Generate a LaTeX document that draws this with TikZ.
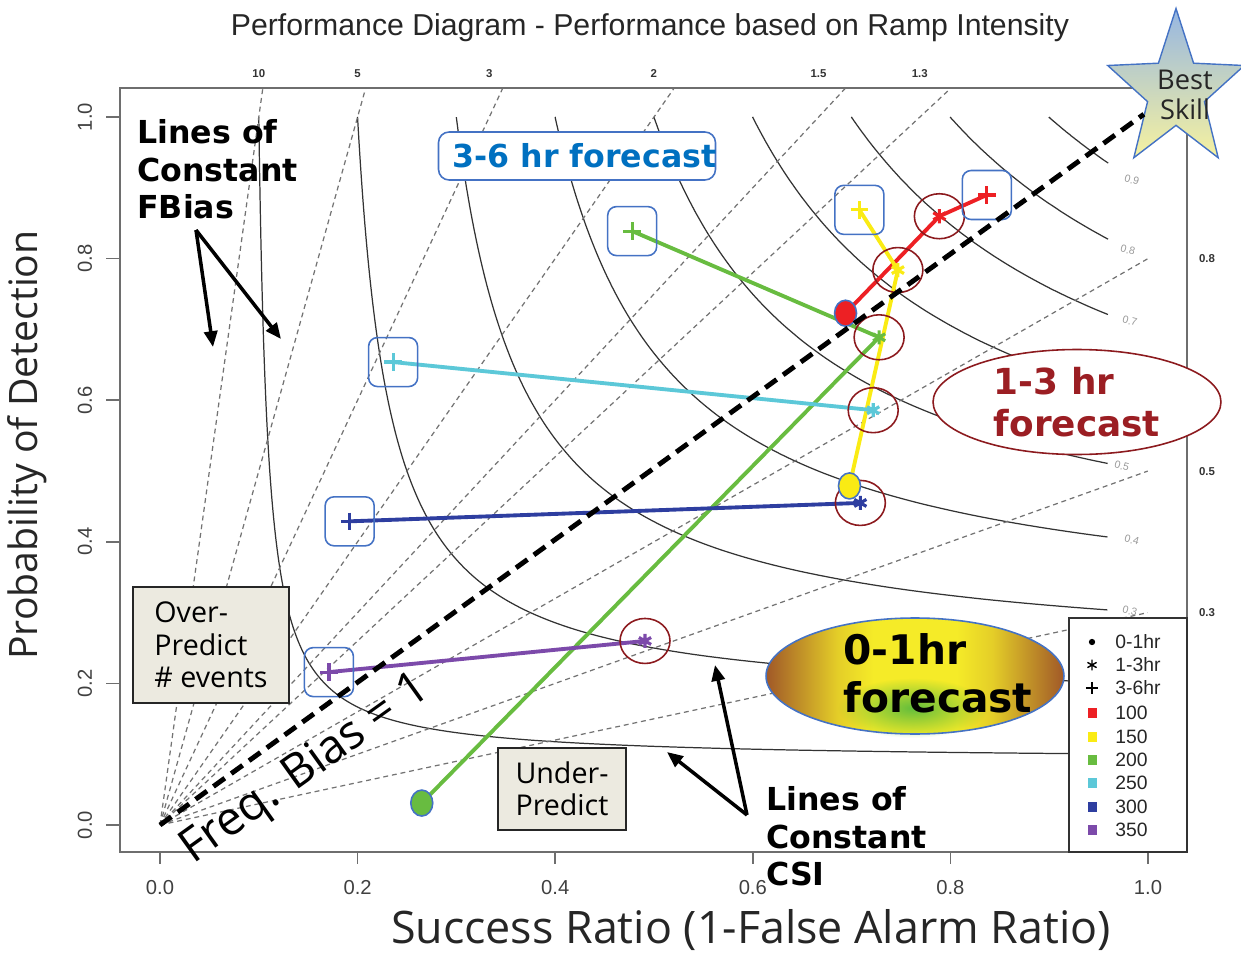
\documentclass[tikz,border=0pt]{standalone}
\usepackage{fontspec}
\setmainfont{Liberation Sans}
\newfontfamily\annfont{DejaVu Sans}
\newfontfamily\labfont{Open Sans}
\usepackage{xcolor}
\usepackage{tikz}
\usetikzlibrary{shapes.geometric,arrows.meta,positioning,calc,plotmarks,fadings}
\definecolor{serred}{RGB}{237,32,36}
\definecolor{seryellow}{RGB}{250,235,20}
\definecolor{sergreen}{RGB}{104,188,64}
\definecolor{sercyan}{RGB}{92,200,216}
\definecolor{serblue}{RGB}{46,62,160}
\definecolor{serpurple}{RGB}{124,74,170}
\definecolor{boxblue}{RGB}{68,114,196}
\definecolor{ringred}{RGB}{140,26,30}
\definecolor{fcblue}{RGB}{0,112,192}
\definecolor{fcred}{RGB}{155,30,35}
\definecolor{beige}{RGB}{236,234,224}
\definecolor{framegray}{RGB}{110,110,110}
\definecolor{sunyellow}{RGB}{245,235,40}
\definecolor{sunbrown}{RGB}{160,88,40}
\definecolor{sungreen}{RGB}{100,190,60}
\definecolor{skyblue}{RGB}{150,182,226}
\definecolor{paleyellow}{RGB}{246,242,160}
\pgfdeclarehorizontalshading{sunband}{100bp}{color(0bp)=(sunbrown); color(25bp)=(sunbrown); color(37bp)=(sunyellow!80!sunbrown); color(43bp)=(sunyellow); color(57bp)=(sunyellow); color(63bp)=(sunyellow!80!sunbrown); color(75bp)=(sunbrown); color(100bp)=(sunbrown)}
\tikzfading[name=greenspot, inner color=transparent!0, outer color=transparent!100]

\begin{document}
\begin{tikzpicture}[x=0.02cm, y=-0.02cm, inner sep=0pt,
  axislab/.style={font=\fontsize{11.5}{13}\selectfont, text=black!75},
  biaslab/.style={font=\bfseries\fontsize{6.5}{8}\selectfont, text=black!80},
  csilab/.style={font=\fontsize{6}{7}\selectfont, text=black!40},
  csiline/.style={black!80, line width=0.7pt},
  biasline/.style={black!55, line width=0.7pt, dash pattern=on 2.8pt off 2.2pt},
  serline/.style={line width=2.2pt},
  ring/.style={ellipse, draw=ringred, line width=0.9pt, minimum width=1cm, minimum height=0.9cm},
  plusbox/.style={draw=boxblue, line width=0.9pt, rounded corners=5pt, minimum size=0.98cm},
  dotmark/.style={ellipse, draw=boxblue, line width=0.9pt, minimum width=0.44cm, minimum height=0.52cm},
  bigarrow/.style={-{Triangle[length=9pt, width=7.5pt]}, line width=2pt},
  boldnote/.style={font=\annfont\bfseries\fontsize{18}{21.5}\selectfont, align=left},
  boxnote/.style={draw=black!85, fill=beige, line width=0.9pt, font=\labfont\fontsize{16.3}{18.4}\selectfont, align=left}]
\useasboundingbox (0,0) rectangle (1241,956);

\draw[framegray, line width=1.1pt] (120,88) rectangle (1187,852);
\foreach \v [count=\k from 0] in {0.0,0.2,0.4,0.6,0.8,1.0} {
  \draw[framegray, line width=0.9pt] (106,{825-141.6*\k}) -- (120,{825-141.6*\k});
  \draw[framegray, line width=0.9pt] ({160+197.6*\k},852) -- ({160+197.6*\k},864);
  \node[axislab, rotate=90] (yt\k) at (85,{825-141.6*\k}) {\v};
  \node[axislab] (xt\k) at ({160+197.6*\k},888) {\v};
}
\node[font=\fontsize{17.2}{20}\selectfont, text=black!85] (title) at (650,28) {Performance Diagram - Performance based on Ramp Intensity};
\node[font=\labfont\fontsize{22.3}{26}\selectfont, text=black!85, rotate=90] (ytitle) at (27,445) {Probability of Detection};
\node[font=\labfont\fontsize{25.5}{30}\selectfont, text=black!85] (xtitle) at (751,930) {Success Ratio (1-False Alarm Ratio)};

\begin{scope}[shift={(160,825)}, x=19.76cm, y=14.16cm]
  \foreach \c in {0.1,0.2,0.3,0.4,0.5,0.6,0.7,0.8,0.9}
    \draw[csiline] plot[domain=0:1, samples=90, smooth, variable=\t] ({\c+(0.96-\c)*\t^3}, {1/(1/\c-1/(\c+(0.96-\c)*\t^3)+1)});
  \foreach \B [count=\i] in {1.3,1.5,2,3,5,10} {
    \draw[biasline] (0,0) -- ({1.04/\B},1.04);
    \node[biaslab] (bt\i) at ({1/\B},1.062) {\B};
  }
  \foreach \B [count=\i] in {0.3,0.5,0.8} {
    \draw[biasline] (0,0) -- (1,\B);
    \node[biaslab] (br\i) at (1.06,\B) {\B};
  }
  \coordinate (orig) at (0,0);
  \coordinate (r1) at (0.694,0.723);
  \coordinate (r2) at (0.789,0.860);
  \coordinate (r3) at (0.837,0.890);
  \coordinate (y1) at (0.698,0.479);
  \coordinate (y2) at (0.747,0.784);
  \coordinate (y3) at (0.708,0.869);
  \coordinate (g1) at (0.265,0.031);
  \coordinate (g2) at (0.728,0.689);
  \coordinate (g3) at (0.478,0.839);
  \coordinate (c2) at (0.722,0.586);
  \coordinate (c3) at (0.236,0.654);
  \coordinate (b2) at (0.709,0.455);
  \coordinate (b3) at (0.192,0.429);
  \coordinate (p2) at (0.491,0.260);
  \coordinate (p3) at (0.171,0.216);
\end{scope}

\foreach \v/\xx/\yy [count=\i] in {0.9/1132/180, 0.8/1128/250, 0.7/1130/321, 0.5/1122/466, 0.4/1132/540, 0.3/1130/611}
  \node[csilab, rotate=-15] (cl\i) at (\xx,\yy) {\v};

\draw[black!80, fill=white, line width=0.8pt] (1069,618) rectangle (1187,852);
\foreach \txt/\yy [count=\i] in {0-1hr/642, 1-3hr/665, 3-6hr/688, 100/713, 150/737, 200/760, 250/783, 300/807, 350/830}
  \node[anchor=west, font=\fontsize{11}{13}\selectfont, text=black!85] (lg\i) at (1115,\yy) {\txt};
\fill[black] (1092,642) circle (1.8pt);
\draw[black, line width=0.8pt] plot[only marks, mark=asterisk, mark size=3pt] coordinates {(1092,665)};
\draw[black, line width=0.8pt] plot[only marks, mark=+, mark size=3.5pt] coordinates {(1092,688)};
\foreach \col/\yy in {serred/713, seryellow/737, sergreen/760, sercyan/783, serblue/807, serpurple/830}
  \fill[\col] (1088,{\yy-5}) rectangle (1097,{\yy+5});

\draw[serline, serred] (r1) -- (r2) -- (r3);
\draw[serline, seryellow] (y1) -- (y2) -- (y3);
\draw[serline, sergreen] (g1) -- (g2) -- (g3);
\draw[serline, sercyan] (c2) -- (c3);
\draw[serline, serblue] (b2) -- (b3);
\draw[serline, serpurple] (p2) -- (p3);
\foreach \s/\col in {r/serred, y/seryellow, g/sergreen, c/sercyan, b/serblue, p/serpurple} {
  \draw[\col, line width=1.8pt] plot[only marks, mark=asterisk, mark size=4pt] coordinates {(\s2)};
  \draw[\col, line width=1.8pt] plot[only marks, mark=+, mark size=5pt] coordinates {(\s3)};
  \node[ring] (ring\s) at (\s2) {};
  \node[plusbox] (box\s) at (\s3) {};
}
\node[dotmark, fill=serred] (dotr) at (r1) {};
\node[dotmark, fill=seryellow] (doty) at (y1) {};
\node[dotmark, fill=sergreen] (dotg) at (g1) {};

\node[star, star points=5, star point ratio=2.4, minimum size=3.3cm, xscale=0.87, draw=boxblue, line width=0.8pt, top color=skyblue, bottom color=paleyellow] (best) at (1176,91) {};
\node[font=\labfont\fontsize{15.5}{17}\selectfont, align=center, text=black!85] (bestlab) at (1185,95) {Best\\Skill};
\draw[black, line width=2.8pt, dash pattern=on 8pt off 4.5pt] (orig) -- (best);

\node[boldnote, anchor=north west] (fbias) at (137,119) {Lines of\\Constant\\FBias};
\coordinate (fbs) at (196,230);
\coordinate (fbt1) at (213,347);
\coordinate (fbt2) at (281,339);
\draw[bigarrow] (fbs) -- (fbt1);
\draw[bigarrow] (fbs) -- (fbt2);

\node[boldnote, anchor=north west] (csinote) at (766,786) {Lines of\\Constant\\CSI};
\coordinate (css) at (747,815);
\coordinate (cst1) at (715,665);
\coordinate (cst2) at (667,752);
\draw[bigarrow] (css) -- (cst1);
\draw[bigarrow] (css) -- (cst2);

\node[draw=boxblue, line width=0.9pt, rounded corners=6pt, fill=white, minimum width=5.54cm, minimum height=0.96cm, font=\annfont\bfseries\fontsize{18}{21}\selectfont, text=fcblue] (late) at (577,156) {\makebox[4.98cm][l]{3-6 hr forecast}};
\node[ellipse, draw=ringred, line width=0.9pt, fill=white, minimum width=5.76cm, minimum height=2.1cm, font=\annfont\bfseries\fontsize{20.4}{23.8}\selectfont, text=fcred, align=left] (mid) at (1077,402) {1-3 hr\\forecast};
\node[ellipse, shade, shading=sunband, minimum width=5.96cm, minimum height=2.32cm] (early) at (915,676) {};
\fill[sungreen, path fading=greenspot] (913,708) ellipse (75 and 30);
\node[ellipse, draw=boxblue, line width=0.9pt, minimum width=5.96cm, minimum height=2.32cm] (earlyrim) at (early) {};
\node[font=\annfont\bfseries\fontsize{23.2}{27.2}\selectfont, align=left] (earlylab) at (938,673) {0-1hr\\forecast};

\node[boxnote, minimum width=3.12cm, minimum height=2.32cm] (over) at (211,645) {Over-\\Predict\\\# events};
\node[boxnote, minimum width=2.56cm, minimum height=1.64cm] (under) at (562,789) {Under-\\Predict};
\node[font=\labfont\fontsize{26.6}{30}\selectfont, rotate=35.6] (freq) at (306,770) {Freq. Bias = 1};
\end{tikzpicture}
\end{document}
